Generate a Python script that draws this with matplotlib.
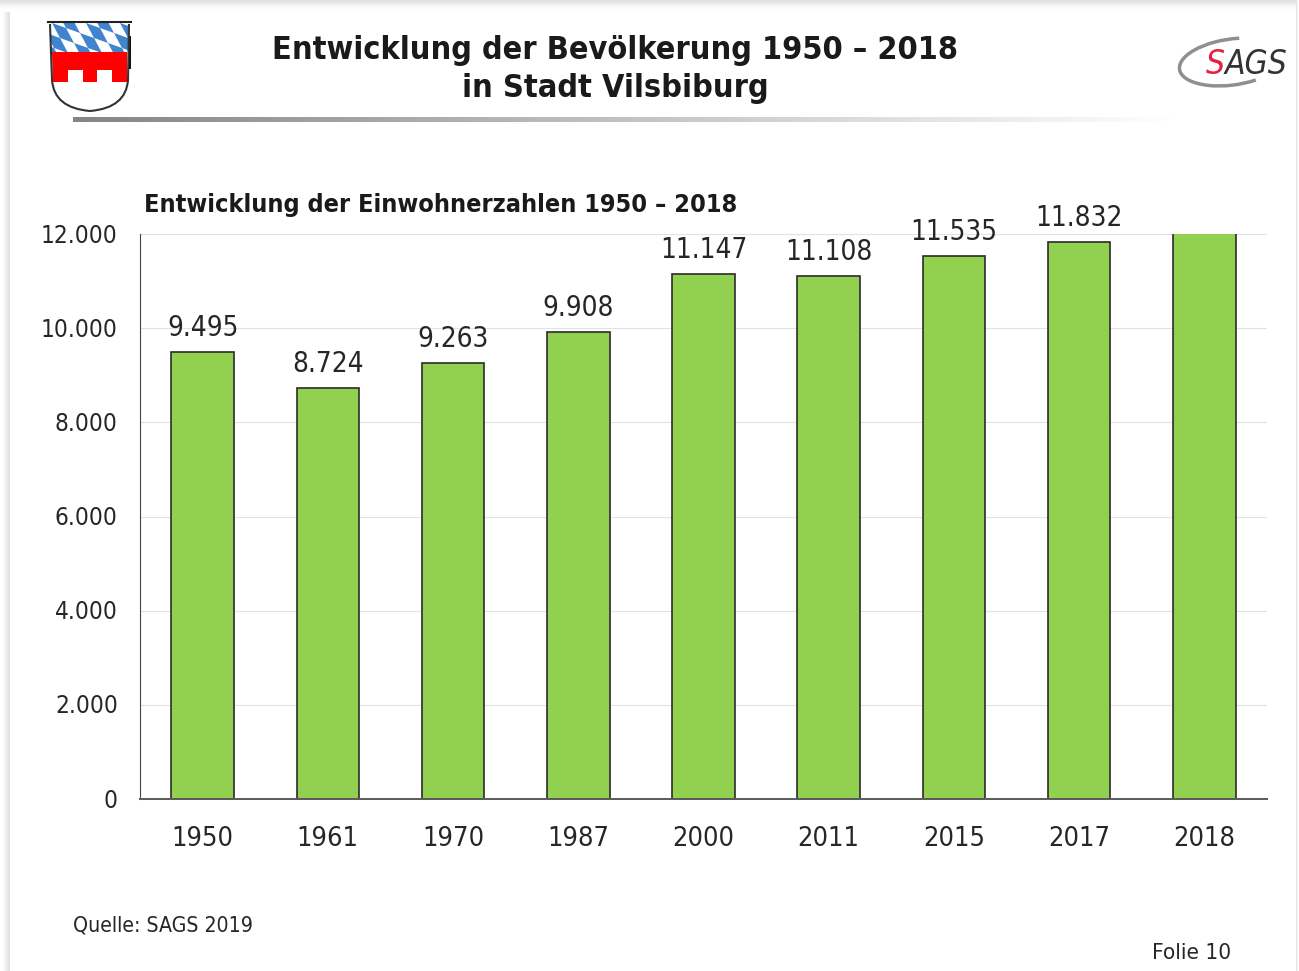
import numpy as np
import matplotlib
matplotlib.use("Agg")
import matplotlib.pyplot as plt
from matplotlib.patches import PathPatch, Polygon, Rectangle, Arc
from matplotlib.path import Path
from matplotlib.transforms import ScaledTranslation

years = ['1950', '1961', '1970', '1987', '2000', '2011', '2015', '2017', '2018']
population = [9495, 8724, 9263, 9908, 11147, 11108, 11535, 11832, 12100]
bar_labels = ['9.495', '8.724', '9.263', '9.908', '11.147', '11.108', '11.535', '11.832', '']
y_ticks = [0, 2000, 4000, 6000, 8000, 10000, 12000]
y_tick_labels = ['0', '2.000', '4.000', '6.000', '8.000', '10.000', '12.000']

W, H = 1299, 971
plt.rcParams['font.family'] = ['DejaVu Sans']
plt.rcParams['font.stretch'] = 'condensed'
text_col = '#262626'

fig = plt.figure(figsize=(W / 100, H / 100), dpi=100, facecolor='white')

# slide background in pixel coordinates
bg = fig.add_axes([0, 0, 1, 1])
bg.set_xlim(0, W)
bg.set_ylim(H, 0)
bg.axis('off')

# soft shadow round the slide
shade = np.array([[1.0, 0.97, 0.88]])
bg.imshow(shade, cmap='gray', vmin=0, vmax=1, extent=[0, 10, H, 0], aspect='auto', interpolation='bicubic')
bg.imshow(shade.T[::-1], cmap='gray', vmin=0, vmax=1, extent=[0, W, 12, 0], aspect='auto', interpolation='bicubic')
bg.imshow(shade[:, ::-1], cmap='gray', vmin=0, vmax=1, extent=[1296, W, H, 0], aspect='auto', interpolation='bicubic')
bg.add_patch(Rectangle((10, 12), 1286, H - 12, fc='white', ec='none', zorder=2))

# rule under the title, fading out to the right
rule = np.linspace(0.52, 1.0, 256).reshape(1, -1)
bg.imshow(rule, cmap='gray', vmin=0, vmax=1, extent=[73, 1185, 122, 117], aspect='auto', zorder=3)
bg.set_xlim(0, W)
bg.set_ylim(H, 0)

# coat of arms, lozenges as a slanted checkerboard
bg.add_patch(Rectangle((50, 23), 79, 29, fc='#3f84cc', ec='none', zorder=3))
clip = Rectangle((50, 23), 79, 29, transform=bg.transData)
e1 = np.array([14, 5])
e2 = np.array([8, 15])
origin = np.array([44, 8])
for i in range(-3, 8):
    for j in range(-2, 6):
        if (i + j) % 2 == 0:
            p = origin + i * e1 + j * e2
            d = Polygon([p, p + e1, p + e1 + e2, p + e2], fc='white', ec='none', zorder=3.5)
            bg.add_patch(d)
            d.set_clip_path(clip)
bg.add_patch(Polygon([(52, 52), (127, 52), (127, 82), (112, 82), (112, 70), (97, 70), (97, 82), (83, 82),
                      (83, 70), (68, 70), (68, 82), (53, 82)], fc='#fe0000', ec='none', zorder=4))
bg.add_patch(PathPatch(Path([(50, 24), (52, 80), (54, 108), (90, 111), (126, 108), (128, 80), (129, 24)],
                            [Path.MOVETO, Path.LINETO, Path.CURVE3, Path.CURVE3, Path.CURVE3, Path.CURVE3, Path.LINETO]),
                       fc='none', ec='#333333', lw=1.5, zorder=5))
bg.plot([48, 131], [22, 22], color='#222222', lw=1.5, zorder=5)
bg.add_patch(Rectangle((128, 36), 3, 33, fc='#111111', ec='none', zorder=4))

# SAGS logo
bg.add_patch(Arc((1232, 62), 106, 46, angle=-8, theta1=45, theta2=295, color='#8f8f8f', lw=2.5, zorder=3))
bg.text(1206, 65, 'S', color='#e5203c', fontsize=24, style='italic', ha='left', va='center', zorder=4)
bg.text(1225, 65, 'AGS', color='#333333', fontsize=24, style='italic', ha='left', va='center', zorder=4)

# titles
bg.text(615, 50, 'Entwicklung der Bevölkerung 1950 – 2018', fontsize=23.2, fontweight='bold', color='#1a1a1a',
        ha='center', va='center', zorder=4)
bg.text(615, 89, 'in Stadt Vilsbiburg', fontsize=23.2, fontweight='bold', color='#1a1a1a',
        ha='center', va='center', zorder=4)
bg.text(144, 205, 'Entwicklung der Einwohnerzahlen 1950 – 2018', fontsize=18.1, fontweight='bold', color='#1a1a1a',
        ha='left', va='center', zorder=4)
bg.text(73, 925, 'Quelle: SAGS 2019', fontsize=15.2, color=text_col, ha='left', va='center', zorder=4)
bg.text(1152, 953, 'Folie 10', fontsize=16.2, color=text_col, ha='left', va='center', zorder=4)

# chart
ax = fig.add_axes([140 / W, 1 - 799 / H, 1127 / W, 565 / H])
ax.patch.set_alpha(0)
x = np.arange(len(years))
bars = ax.bar(x, population, width=0.5, color='#92d050', edgecolor='#2b2b2b', linewidth=1.2, zorder=3)
ax.set_xlim(-0.5, len(years) - 0.5)
ax.set_ylim(0, 12000)
ax.set_xticks(x)
ax.set_xticklabels(years, fontsize=19.5, color=text_col)
ax.set_yticks(y_ticks)
ax.set_yticklabels(y_tick_labels, fontsize=17.5, color=text_col)
ax.tick_params(axis='x', length=0, pad=19.5)
ax.tick_params(axis='y', length=0, pad=16)
# nudge the value axis labels up a pixel
for lab in ax.get_yticklabels():
    lab.set_transform(lab.get_transform() + ScaledTranslation(0, 1 / 100, fig.dpi_scale_trans))
ax.grid(axis='y', color='#e2e2e2', linewidth=0.8, zorder=0)
ax.set_axisbelow(True)
for side in ['top', 'right']:
    ax.spines[side].set_visible(False)
ax.spines['left'].set_color('#444444')
ax.spines['bottom'].set_color('#5a5a5a')
ax.spines['bottom'].set_linewidth(1.4)
ax.spines['bottom'].set_zorder(4)

for rect, label in zip(bars, bar_labels):
    ax.annotate(label, (rect.get_x() + rect.get_width() / 2, rect.get_height()), xytext=(0, 17.5),
                textcoords='offset points', ha='center', va='center', fontsize=20, color=text_col,
                annotation_clip=False)

fig.savefig('out.png', dpi=100)
